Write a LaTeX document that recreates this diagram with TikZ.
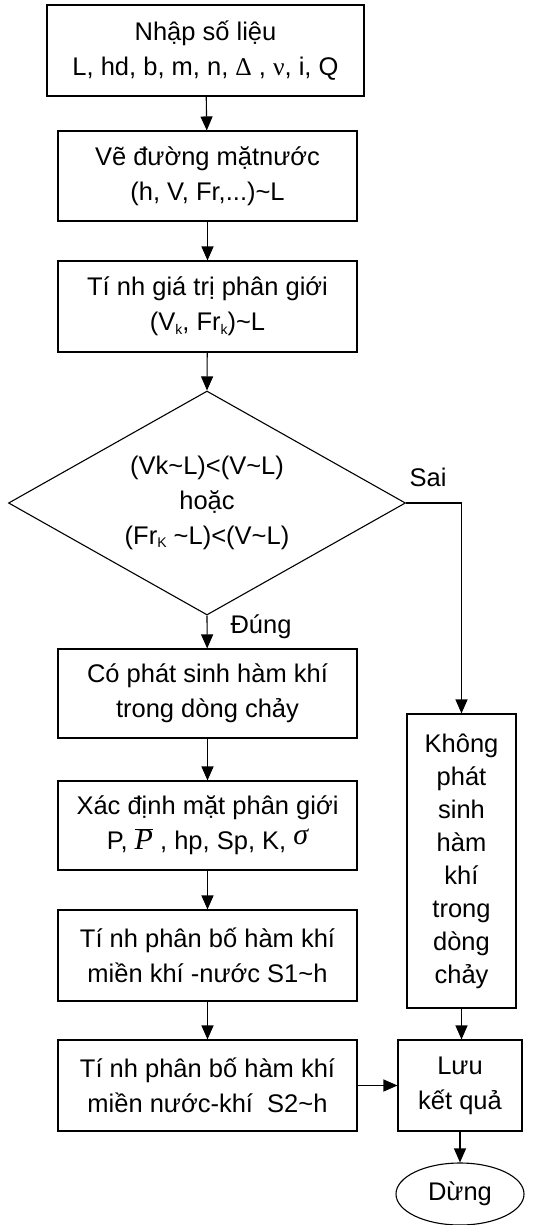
\documentclass[tikz,border=0pt]{standalone}
\usepackage{fontspec}
\setmainfont{Liberation Sans}
\newfontfamily\serif{Liberation Serif}
\usetikzlibrary{shapes.geometric,arrows.meta}
\newcommand\subsc[1]{\raisebox{-0.25ex}{\fontsize{14}{14}\selectfont #1}}
\newcommand\tld{\textasciitilde}
\begin{document}
\begin{tikzpicture}[x=1pt,y=-1pt,
  font=\fontsize{25.5}{35}\selectfont, line width=1.1pt,
  box/.style={draw, rectangle, inner sep=0pt, align=center},
  arr/.style={-{Triangle[length=14pt,width=12pt]}}]
\useasboundingbox (0,0) rectangle (555,1225);
\node[box, minimum width=317pt, minimum height=91pt] (b1) at (205.5,50.5)
  {Nhập số liệu\\L, hd, b, m, n, {\serif Δ} , {\serif ν}, i, Q};
\node[box, minimum width=299pt, minimum height=90pt] (b2) at (207.5,176)
  {Vẽ đường mặtnước\\(h, V, Fr,...)\tld L};
\node[box, minimum width=299pt, minimum height=91pt] (b3) at (207.5,306.5)
  {Tí nh giá trị phân giới\\(V\subsc{k}, Fr\subsc{k})\tld L};
\node[draw, diamond, aspect=1.77, inner sep=0pt, align=center,
  minimum width=397pt, minimum height=224pt] (d) at (207,503)
  {(Vk\tld L)<(V\tld L)\\hoặc\\(Fr\subsc{K} \tld L)<(V\tld L)};
\node[box, minimum width=299pt, minimum height=89pt] (b4) at (207.5,693.5)
  {Có phát sinh hàm khí\\trong dòng chảy};
\node[box, minimum width=299pt, minimum height=89pt] (b5) at (207.5,825.5)
  {Xác định mặt phân giới\\P, $\overline{\mbox{\fontsize{30}{30}\serif\itshape P}}$ , hp, Sp, K, \raisebox{5pt}{\fontsize{30}{30}\serif\itshape σ}};
\node[box, minimum width=299pt, minimum height=91pt] (b6) at (207.5,955.5)
  {Tí nh phân bố hàm khí\\miền khí -nước S1\tld h};
\node[box, minimum width=299pt, minimum height=91pt] (b7) at (207.5,1085.5)
  {Tí nh phân bố hàm khí\\miền nước-khí\ \ S2\tld h};
\node[box, minimum width=109pt, minimum height=294pt, font=\fontsize{25.5}{33}\selectfont] (k) at (461.5,861)
  {Không\\phát\\sinh\\hàm\\khí\\trong\\dòng\\chảy};
\node[box, minimum width=124pt, minimum height=91pt] (l) at (460,1085.5)
  {Lưu\\kết quả};
\node[draw, ellipse, inner sep=0pt, minimum width=128pt, minimum height=62pt] (e) at (460,1194)
  {Dừng};
\node (sai) at (428,477) {Sai};
\node (dung) at (261,627) {Đúng};
\draw[arr] (b1) -- (b2);
\draw[arr] (b2) -- (b3);
\draw[arr] (b3) -- (d.north);
\draw[arr] (d.south) -- (b4);
\draw[arr] (b4) -- (b5);
\draw[arr] (b5) -- (b6);
\draw[arr] (b6) -- (b7);
\draw[arr] (d.east) -| (k.north);
\draw[arr] (b7) -- (l);
\draw[arr] (k.south) -- (k.south |- l.north);
\draw[arr] (l) -- (e);
\end{tikzpicture}
\end{document}
